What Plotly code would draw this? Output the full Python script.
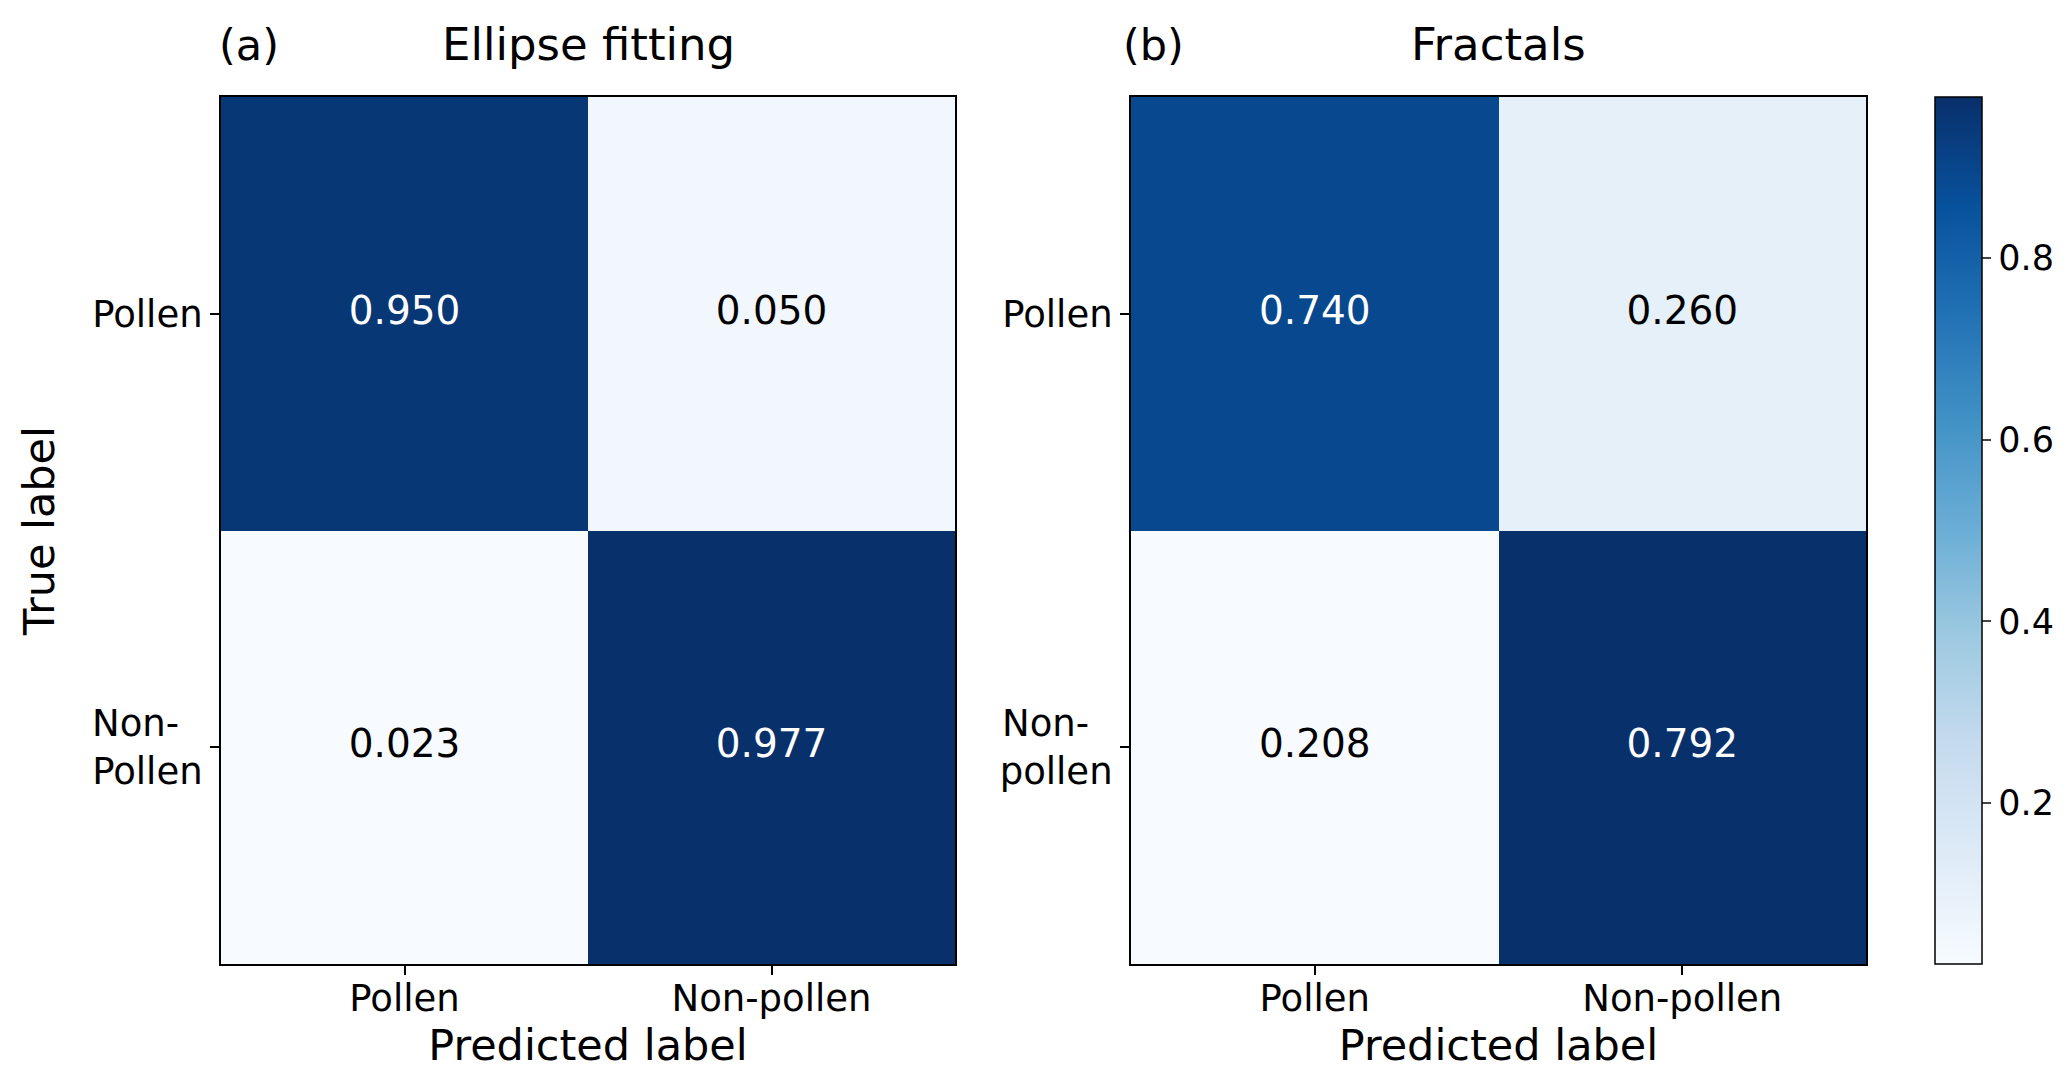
import plotly.graph_objects as go

# ---- data ----
pred_labels = ["Pollen", "Non-pollen"]
true_labels_a = ["Pollen", "Non-Pollen"]
true_labels_b = ["Pollen", "Non-pollen"]
cm_a = [[0.950, 0.050], [0.023, 0.977]]
cm_b = [[0.740, 0.260], [0.208, 0.792]]
titles = ["Ellipse fitting", "Fractals"]
panel_tags = ["(a)", "(b)"]
cbar_ticks = [0.2, 0.4, 0.6, 0.8]

W, H = 2067, 1071
FONT = "DejaVu Sans"


def px_x(p):
    return p / W


def px_y(p):
    return 1 - p / H


dom_x = [[px_x(213), px_x(947)], [px_x(1123), px_x(1858)]]
dom_y = [px_y(956), px_y(89)]

fig = go.Figure()

panels = [(cm_a, true_labels_a), (cm_b, true_labels_b)]
for i, (cm, tl) in enumerate(panels):
    flat = [v for row in cm for v in row]
    zmin, zmax = min(flat), max(flat)
    xs = list(range(len(pred_labels)))
    ys = list(range(len(tl)))
    xa = "x" if i == 0 else "x2"
    ya = "y" if i == 0 else "y2"
    hm = dict(
        z=cm, x=xs, y=ys, colorscale="Blues", zmin=zmin, zmax=zmax,
        xaxis=xa, yaxis=ya, showscale=(i == 0), hoverinfo="skip",
    )
    if i == 0:
        hm["colorbar"] = dict(
            x=px_x(1927), xanchor="left", y=(dom_y[0] + dom_y[1]) / 2,
            yanchor="middle", len=(956 - 89) / H, lenmode="fraction",
            thickness=47, thicknessmode="pixels", outlinewidth=1.5,
            outlinecolor="black", ticks="outside", ticklen=9, tickwidth=1.5,
            tickvals=cbar_ticks, ticktext=[f"{t:.1f}" for t in cbar_ticks],
            tickfont=dict(family=FONT, size=35, color="black"),
            xpad=0, ypad=0,
        )
    fig.add_trace(go.Heatmap(**hm))
    thresh = zmax / 2
    tx, ty, tt, tc = [], [], [], []
    for r in range(len(tl)):
        for c in range(len(pred_labels)):
            tx.append(c)
            ty.append(r)
            tt.append(f"{cm[r][c]:.3f}")
            tc.append("white" if cm[r][c] > thresh else "black")
    fig.add_trace(go.Scatter(
        x=tx, y=ty, text=tt, mode="text", xaxis=xa, yaxis=ya,
        textfont=dict(family=FONT, size=39, color=tc), showlegend=False,
        hoverinfo="skip",
    ))

axis_common = dict(
    showline=True, mirror=True, linecolor="black", linewidth=2,
    ticks="outside", ticklen=9, tickwidth=1.5, tickcolor="black",
    showgrid=False, zeroline=False,
    tickfont=dict(family=FONT, size=37, color="black"),
)

for i, tl in enumerate([true_labels_a, true_labels_b]):
    sfx = "" if i == 0 else "2"
    ytext = [t.replace("Non-", "Non-\u00a0\u00a0<br>") for t in tl]
    fig.layout["xaxis" + sfx] = dict(
        domain=dom_x[i], range=[-0.5, 1.5], tickvals=[0, 1],
        ticktext=pred_labels, anchor="y" + sfx, ticklabelstandoff=-8,
        title=dict(text="Predicted label", font=dict(family=FONT, size=43, color="black"), standoff=0),
        **axis_common,
    )
    fig.layout["yaxis" + sfx] = dict(
        domain=dom_y, range=[1.5, -0.5], tickvals=[0, 1],
        ticktext=ytext, anchor="x" + sfx,
        **axis_common,
    )

fig.layout.yaxis.title = dict(text="True label", font=dict(family=FONT, size=43, color="black"), standoff=24)

annots = []
for i in range(2):
    cx = (dom_x[i][0] + dom_x[i][1]) / 2
    annots.append(dict(
        text=titles[i], x=cx, y=px_y(37), xref="paper", yref="paper",
        xanchor="center", yanchor="middle", showarrow=False,
        font=dict(family=FONT, size=45, color="black"),
    ))
    annots.append(dict(
        text=panel_tags[i], x=dom_x[i][0] - px_x(4 if i == 0 else 10), y=px_y(37),
        xref="paper", yref="paper", xanchor="left", yanchor="middle",
        showarrow=False, font=dict(family=FONT, size=43, color="black"),
    ))

fig.update_layout(
    width=W, height=H, autosize=False,
    margin=dict(l=0, r=0, t=0, b=0),
    paper_bgcolor="white", plot_bgcolor="white",
    annotations=annots, showlegend=False,
    font=dict(family=FONT, color="black"),
)

fig.write_html("out.html")
